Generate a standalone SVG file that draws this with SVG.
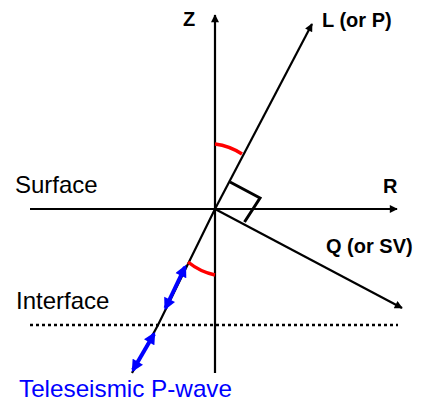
<svg xmlns="http://www.w3.org/2000/svg" width="422" height="407" viewBox="0 0 422 407">
<style>
.ax{stroke:#000;stroke-width:2.2;fill:none}
.lbl{font-family:"Liberation Sans",Arial,sans-serif;font-weight:bold;font-size:20px;fill:#000}
.big{font-family:"Liberation Sans",Arial,sans-serif;font-size:24px;fill:#000}
.arc{stroke:#f00;stroke-width:3.5;fill:none}
.pw{stroke:#00f;stroke-width:4;fill:none}
</style>
<defs>
<marker id="ah" viewBox="0 0 10 10" refX="9" refY="5" markerWidth="10" markerHeight="8" markerUnits="userSpaceOnUse" orient="auto">
<path d="M0,0 L10,5 L0,10 z" fill="#000"/>
</marker>
<marker id="bh" viewBox="0 0 10 10" refX="8" refY="5" markerWidth="13" markerHeight="12" markerUnits="userSpaceOnUse" orient="auto-start-reverse">
<path d="M0,0 L10,5 L0,10 z" fill="#00f"/>
</marker>
</defs>
<g id="connectors">
<line class="ax" x1="215" y1="373" x2="215" y2="15" marker-end="url(#ah)"/>
<line class="ax" x1="30" y1="209" x2="397" y2="209" marker-end="url(#ah)"/>
<line class="ax" x1="215" y1="209" x2="312" y2="24" marker-end="url(#ah)"/>
<line class="ax" x1="215" y1="209" x2="402" y2="308" marker-end="url(#ah)"/>
<polyline class="ax" points="215,209 158,325 132,373"/>
<line x1="30" y1="325" x2="398" y2="325" stroke="#000" stroke-width="2.5" stroke-dasharray="3 3"/>
<polyline points="230,182 260,198 244.5,222" fill="none" stroke="#000" stroke-width="3"/>
<path class="arc" d="M215,144 A64 64 0 0 1 242,154"/>
<path class="arc" d="M188,262 A64 64 0 0 0 215,275"/>
<line class="pw" x1="185" y1="267" x2="165.5" y2="308" marker-start="url(#bh)" marker-end="url(#bh)"/>
<line class="pw" x1="154" y1="334" x2="133" y2="370" marker-start="url(#bh)" marker-end="url(#bh)"/>
</g>
<g id="labels">
<text class="lbl" x="183" y="26">Z</text>
<text class="lbl" x="322" y="27">L (or P)</text>
<text class="lbl" x="383" y="193">R</text>
<text class="lbl" x="326" y="253">Q (or SV)</text>
<text class="big" x="15" y="193">Surface</text>
<text class="big" x="16" y="309">Interface</text>
<text class="big" x="19" y="397" fill="#00f" style="fill:#00f" textLength="213" lengthAdjust="spacingAndGlyphs">Teleseismic P-wave</text>
</g>
</svg>
